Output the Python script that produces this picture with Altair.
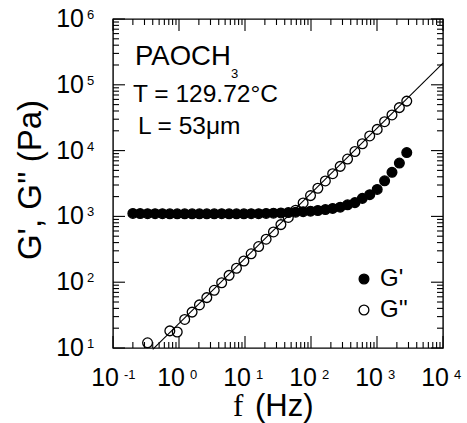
import altair as alt
import pandas as pd

# ---- data ----
freq = [0.200, 0.258, 0.334, 0.434, 0.561, 0.726, 0.940, 1.22, 1.58, 2.04,
        2.64, 3.42, 4.43, 5.74, 7.43, 9.62, 12.4, 16.1, 20.9, 27.0,
        35.0, 45.3, 58.6, 76.0, 98.4, 127, 165, 213, 277, 358,
        463, 600, 776, 1007, 1303, 1687, 2183, 2825]
g_storage = [1110, 1105, 1100, 1100, 1100, 1095, 1095, 1095, 1095, 1095,
             1095, 1095, 1100, 1095, 1095, 1095, 1100, 1100, 1110, 1120,
             1130, 1145, 1160, 1180, 1200, 1230, 1270, 1320, 1380, 1500,
             1620, 1880, 2140, 2570, 3470, 4680, 6460, 9330]
g_loss = [None, None, 12.0, None, None, 18.2, 17.5, 27.2, 35.1, 45.2,
          58.3, 75.2, 98, 127, 163, 210, 270, 348, 450, 580,
          750, 965, 1240, 1600, 2070, 2680, 3460, 4460, 5760, 7430,
          9700, 12700, 16700, 21000, 27500, 34800, 45000, 56500]
fit_f = [0.4, 10000]
fit_g = [9.5, 214000]

x_decades = [0.1, 1, 10, 100, 1000, 10000]
x_exps = ["-1", "0", "1", "2", "3", "4"]
y_decades = [10, 100, 1000, 10000, 100000, 1000000]
y_exps = ["1", "2", "3", "4", "5", "6"]
series_names = ["G'", "G''"]

W, H = 330, 329
FONT = "Liberation Sans"

rows = []
for f, g in zip(freq, g_storage):
    rows.append({"f": f, "G": g, "s": series_names[0]})
for f, g in zip(freq, g_loss):
    if g is not None:
        rows.append({"f": f, "G": g, "s": series_names[1]})
pts = pd.DataFrame(rows)

xs = alt.Scale(type="log", domain=[0.1, 10000], nice=False)
ys = alt.Scale(type="log", domain=[10, 1000000], nice=False)

points = alt.Chart(pts).mark_point(
    shape="circle", size=95, stroke="black", strokeWidth=1.3, opacity=1
).encode(
    x=alt.X("f:Q", scale=xs, axis=None),
    y=alt.Y("G:Q", scale=ys, axis=None),
    fill=alt.Fill("s:N", scale=alt.Scale(domain=series_names, range=["black", "transparent"]),
                  legend=alt.Legend(title=None, orient="none", legendX=239, legendY=248,
                                    symbolType="circle", symbolSize=95, symbolStrokeColor="black",
                                    symbolStrokeWidth=1.3, symbolOpacity=1,
                                    labelFont=FONT, labelFontSize=24, labelColor="black",
                                    labelOffset=4, rowPadding=7, padding=0)),
    order=alt.Order("s:N"),
)

fit = alt.Chart(pd.DataFrame({"f": fit_f, "G": fit_g})).mark_line(
    color="black", strokeWidth=1.1, clip=False
).encode(x=alt.X("f:Q", scale=xs, axis=None), y=alt.Y("G:Q", scale=ys, axis=None))

x_minor = [m * d for d in x_decades[:-1] for m in range(2, 10)]
y_minor = [m * d for d in y_decades[:-1] for m in range(2, 10)]
MAJ, MIN = 12, 6


def xticks(vals, length):
    d = pd.DataFrame({"v": vals})
    b = alt.Chart(d).mark_rule(color="black", strokeWidth=1.1).encode(
        x=alt.X("v:Q", scale=xs, axis=None), y=alt.value(H), y2=alt.value(H - length))
    t = alt.Chart(d).mark_rule(color="black", strokeWidth=1.1).encode(
        x=alt.X("v:Q", scale=xs, axis=None), y=alt.value(0), y2=alt.value(length))
    return [b, t]


def yticks(vals, length):
    d = pd.DataFrame({"v": vals})
    l = alt.Chart(d).mark_rule(color="black", strokeWidth=1.1).encode(
        y=alt.Y("v:Q", scale=ys, axis=None), x=alt.value(0), x2=alt.value(length))
    r = alt.Chart(d).mark_rule(color="black", strokeWidth=1.1).encode(
        y=alt.Y("v:Q", scale=ys, axis=None), x=alt.value(W), x2=alt.value(W - length))
    return [l, r]


ticks = (xticks(x_decades, MAJ) + xticks(x_minor, MIN)
         + yticks(y_decades, MAJ) + yticks(y_minor, MIN))

xd = pd.DataFrame({"v": x_decades, "e": x_exps})
yd = pd.DataFrame({"v": y_decades, "e": y_exps})

xlab = alt.Chart(xd).mark_text(font=FONT, fontSize=25, align="right", baseline="alphabetic",
                               dx=6, color="black").encode(
    x=alt.X("v:Q", scale=xs, axis=None), y=alt.value(367), text=alt.value("10"))
xexp = alt.Chart(xd).mark_text(font=FONT, fontSize=13, align="left", baseline="alphabetic",
                               dx=11, color="black").encode(
    x=alt.X("v:Q", scale=xs, axis=None), y=alt.value(360), text="e:N")
ylab = alt.Chart(yd).mark_text(font=FONT, fontSize=25, align="right", baseline="alphabetic",
                               dy=8, color="black").encode(
    y=alt.Y("v:Q", scale=ys, axis=None), x=alt.value(-29), text=alt.value("10"))
yexp = alt.Chart(yd).mark_text(font=FONT, fontSize=13, align="left", baseline="alphabetic",
                               dy=0, color="black").encode(
    y=alt.Y("v:Q", scale=ys, axis=None), x=alt.value(-26), text="e:N")

one = alt.Data(values=[{}])


def label(txt, x, y, size, font=FONT, angle=0, align="left", baseline="alphabetic"):
    kw = dict(text=txt, font=font, fontSize=size, align=align, baseline=baseline, color="black")
    if angle:
        kw["angle"] = angle
    return alt.Chart(one).mark_text(**kw).encode(x=alt.value(x), y=alt.value(y))


texts = [
    label("PAOCH", 22, 46, 27.5),
    label("3", 118, 58.5, 13),
    label("T = 129.72°C", 20, 83, 24.5),
    label("L = 53μm", 25, 114.5, 24.5),
    label("f", 120, 397, 31, font="Liberation Serif"),
    label("(Hz)", 142, 397, 31),
    label("G', G'' (Pa)", -82, 161, 33, angle=270, align="center", baseline="middle"),
]

chart = alt.layer(points, fit, *ticks, xlab, xexp, ylab, yexp, *texts).properties(
    width=W, height=H,
    padding={"left": 113, "top": 19, "right": 24, "bottom": 75},
    autosize=alt.AutoSizeParams(type="none"),
    background="white",
).configure_view(stroke="black", strokeWidth=1.4)

chart.save("out.html", embed_options={"renderer": "svg", "actions": False})
